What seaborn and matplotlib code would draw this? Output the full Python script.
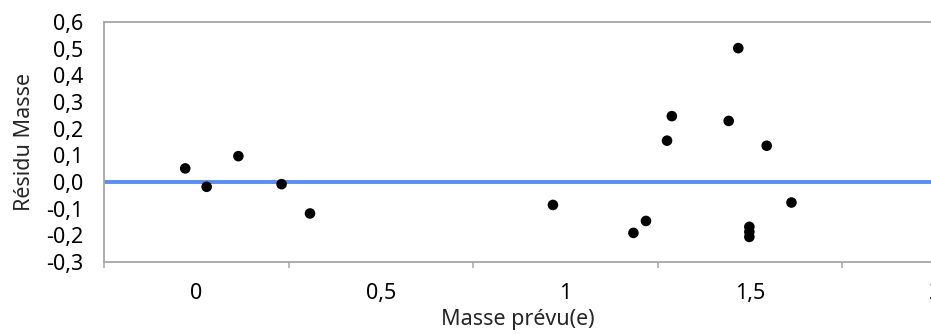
import numpy as np
import pandas as pd
import seaborn as sns
import matplotlib
matplotlib.use("Agg")
import matplotlib.pyplot as plt
from matplotlib.ticker import MultipleLocator, FuncFormatter

# values
masse_prevue = [-0.03, 0.028, 0.114, 0.231, 0.308, 0.966, 1.184, 1.218, 1.275,
                1.288, 1.442, 1.468, 1.498, 1.498, 1.498, 1.545, 1.612]
residu_masse = [0.051, -0.018, 0.097, -0.008, -0.118, -0.086, -0.191, -0.146, 0.155,
                0.247, 0.229, 0.502, -0.168, -0.187, -0.206, 0.136, -0.077]

df = pd.DataFrame({"Masse prévu(e)": masse_prevue, "Résidu Masse": residu_masse})

sns.set_theme(style="white")
plt.rcParams["font.family"] = ["Noto Sans", "DejaVu Sans"]
plt.rcParams["axes.unicode_minus"] = False

fs = 15.5

fig = plt.figure(figsize=(9.31, 3.34), dpi=100)
ax = fig.add_axes([104 / 931, 72 / 334, 1 - 104 / 931, 240 / 334])

# zero reference line
ax.axhline(0, color="#5a8cf2", lw=2.8, zorder=1)

sns.scatterplot(data=df, x="Masse prévu(e)", y="Résidu Masse", ax=ax,
                color="black", s=58, edgecolor="none", zorder=3)

ax.set_xlim(-0.25, 1.99)
ax.set_ylim(-0.3, 0.6)

ax.xaxis.set_major_locator(MultipleLocator(0.5))
ax.xaxis.set_minor_locator(MultipleLocator(0.25))
ax.yaxis.set_major_locator(MultipleLocator(0.1))

# decimal comma like the original
ax.xaxis.set_major_formatter(FuncFormatter(lambda v, p: f"{v:g}".replace(".", ",")))
ax.yaxis.set_major_formatter(FuncFormatter(lambda v, p: f"{v:.1f}".replace(".", ",")))

gray = "#a6a6a6"
for side in ["left", "bottom", "top"]:
    ax.spines[side].set_color(gray)
    ax.spines[side].set_linewidth(1.3)
ax.spines["right"].set_visible(False)

ax.tick_params(axis="both", which="major", direction="out", color=gray, width=1.1,
               length=8, labelsize=fs, labelcolor="black")
ax.tick_params(axis="x", which="major", pad=7)
ax.tick_params(axis="y", which="major", pad=7)
ax.tick_params(axis="x", which="minor", bottom=True, direction="out", color=gray,
               width=1.1, length=4)

# the "2" label sits at the right edge, mostly cut off like in the original
ax.annotate("2", xy=(2.0, 0), xycoords=("data", "axes fraction"),
            xytext=(0, -15), textcoords="offset points",
            ha="center", va="top", fontsize=fs, annotation_clip=False)

ax.set_xlabel("Masse prévu(e)", fontsize=fs, labelpad=4)
ax.set_ylabel("Résidu Masse", fontsize=fs, labelpad=8)

fig.savefig("out.png", dpi=100)
